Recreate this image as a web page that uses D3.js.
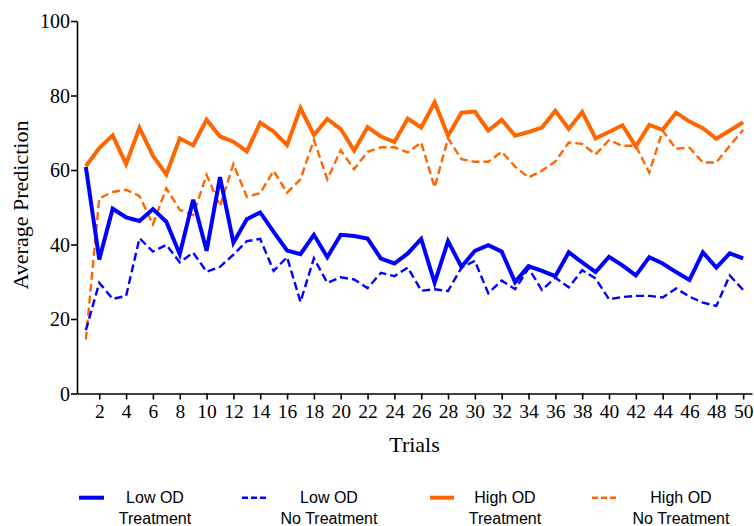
<!DOCTYPE html>
<html>
<head>
<meta charset="utf-8">
<script src="https://cdn.jsdelivr.net/npm/d3@7"></script>
<style>
  html, body { margin: 0; padding: 0; background: #fff; }
  svg { display: block; }
</style>
</head>
<body>
<svg id="chart" width="754" height="526"></svg>
<script>
// Trial numbers 1..50
const trials = [1,2,3,4,5,6,7,8,9,10,11,12,13,14,15,16,17,18,19,20,21,22,23,24,25,
  26,27,28,29,30,31,32,33,34,35,36,37,38,39,40,41,42,43,44,45,46,47,48,49,50];

// Average prediction per trial, one array per group
const lowTreatment = [60.8,36.0,49.6,47.3,46.3,49.5,46.1,37.4,52.0,38.3,58.1,40.5,46.8,48.6,43.4,
  38.4,37.4,42.6,36.6,42.6,42.3,41.6,36.2,34.9,37.6,41.5,29.7,40.9,34.0,38.3,
  39.8,38.1,29.9,34.2,32.9,31.5,37.9,35.2,32.6,36.7,34.4,31.7,36.6,34.9,32.6,
  30.5,37.9,33.8,37.6,36.3];
const lowNoTreatment = [17.0,29.7,25.4,26.2,41.7,38.1,39.9,35.2,37.8,32.7,34.0,37.3,40.9,41.5,32.9,
  36.6,24.6,36.3,29.7,31.2,30.6,28.3,32.4,31.5,33.8,27.6,28.0,27.5,33.8,35.6,
  26.9,30.3,28.0,33.6,27.8,31.1,28.5,33.1,30.9,25.3,25.9,26.2,26.2,25.8,28.2,
  26.0,24.4,23.5,31.7,27.8];
const highTreatment = [61.0,65.9,69.3,61.6,71.3,63.8,58.8,68.5,66.6,73.5,69.0,67.6,65.0,72.7,70.3,
  66.7,76.6,69.4,73.7,71.0,65.2,71.5,69.0,67.5,73.8,71.4,78.2,69.2,75.4,75.7,
  70.6,73.5,69.2,70.2,71.4,75.9,71.0,75.6,68.5,70.2,72.0,66.3,72.1,70.8,75.4,
  73.0,71.2,68.4,70.6,72.8];
const highNoTreatment = [14.5,52.4,54.1,54.7,53.0,45.4,55.1,49.3,47.9,58.7,50.3,61.6,52.8,53.8,59.8,
  53.9,57.5,68.1,57.5,65.3,60.2,64.9,66.1,66.1,64.7,67.4,55.3,68.5,62.9,62.2,
  62.2,64.9,60.9,58.0,59.8,62.3,67.4,67.0,64.2,68.0,66.5,66.5,59.3,70.5,65.7,
  66.0,62.0,62.0,66.5,70.8];

const xTicks = [2,4,6,8,10,12,14,16,18,20,22,24,26,28,30,32,34,36,38,40,42,44,46,48,50];
const yTicks = [0,20,40,60,80,100];

const BLUE = "#0000ff";
const ORANGE = "#ff6600";
const SERIF = "'Liberation Serif', 'Times New Roman', serif";
const SANS = "'Liberation Sans', Arial, sans-serif";

const series = [
  { name: ["Low OD", "Treatment"], values: lowTreatment, color: BLUE, dashed: false },
  { name: ["Low OD", "No Treatment"], values: lowNoTreatment, color: BLUE, dashed: true },
  { name: ["High OD", "Treatment"], values: highTreatment, color: ORANGE, dashed: false },
  { name: ["High OD", "No Treatment"], values: highNoTreatment, color: ORANGE, dashed: true }
];

const svg = d3.select("#chart");

const x = d3.scaleLinear().domain([0.34, 50.66]).range([77, 752]);
const y = d3.scaleLinear().domain([0, 100]).range([393.5, 21]);

// Axes
const xAxis = svg.append("g")
  .attr("transform", `translate(0,${y(0)})`)
  .call(d3.axisBottom(x).tickValues(xTicks).tickSize(6).tickPadding(5).tickSizeOuter(0))
  .attr("font-family", SERIF);
xAxis.selectAll("text").attr("font-family", SERIF).attr("font-size", 19.5).attr("fill", "#000");

const yAxis = svg.append("g")
  .attr("transform", `translate(${x.range()[0]},0)`)
  .call(d3.axisLeft(y).tickValues(yTicks).tickSize(6).tickPadding(1).tickSizeOuter(0))
  .attr("font-family", SERIF);
yAxis.selectAll("text").attr("font-family", SERIF).attr("font-size", 20).attr("fill", "#000").attr("dy", "0.34em");

svg.selectAll(".domain, .tick line").attr("stroke", "#000").attr("stroke-width", 1.6);

// Axis titles
svg.append("text")
  .attr("x", (x.range()[0] + x.range()[1]) / 2)
  .attr("y", 452)
  .attr("text-anchor", "middle")
  .attr("font-family", SERIF)
  .attr("font-size", 22)
  .text("Trials");

svg.append("text")
  .attr("transform", "translate(28,205) rotate(-90)")
  .attr("text-anchor", "middle")
  .attr("font-family", SERIF)
  .attr("font-size", 22)
  .text("Average Prediction");

// Lines
const line = d3.line()
  .x((d, i) => x(trials[i]))
  .y(d => y(d));

const drawOrder = [series[3], series[1], series[0], series[2]];
svg.append("g").selectAll("path")
  .data(drawOrder)
  .join("path")
  .attr("d", d => line(d.values))
  .attr("fill", "none")
  .attr("stroke", d => d.color)
  .attr("stroke-width", d => d.dashed ? 2.4 : 4)
  .attr("stroke-dasharray", d => d.dashed ? "8,4" : null)
  .attr("stroke-linejoin", "miter");

// Legend
const legendX = [{ l0: 79, l1: 104, c: 155 }, { l0: 242, l1: 266, c: 329 },
                 { l0: 430, l1: 454, c: 505 }, { l0: 592, l1: 616, c: 681 }];
const legend = svg.append("g");
series.forEach((s, i) => {
  const p = legendX[i];
  legend.append("line")
    .attr("x1", p.l0).attr("x2", p.l1)
    .attr("y1", 497.7).attr("y2", 497.7)
    .attr("stroke", s.color)
    .attr("stroke-width", s.dashed ? 2.4 : 4)
    .attr("stroke-dasharray", s.dashed ? "6,3" : null);
  const t = legend.append("text")
    .attr("text-anchor", "middle")
    .attr("font-family", SANS)
    .attr("font-size", 16)
    .attr("fill", "#000");
  t.append("tspan").attr("x", p.c).attr("y", 503.3).text(s.name[0]);
  t.append("tspan").attr("x", p.c).attr("y", 524).text(s.name[1]);
});
</script>
</body>
</html>
